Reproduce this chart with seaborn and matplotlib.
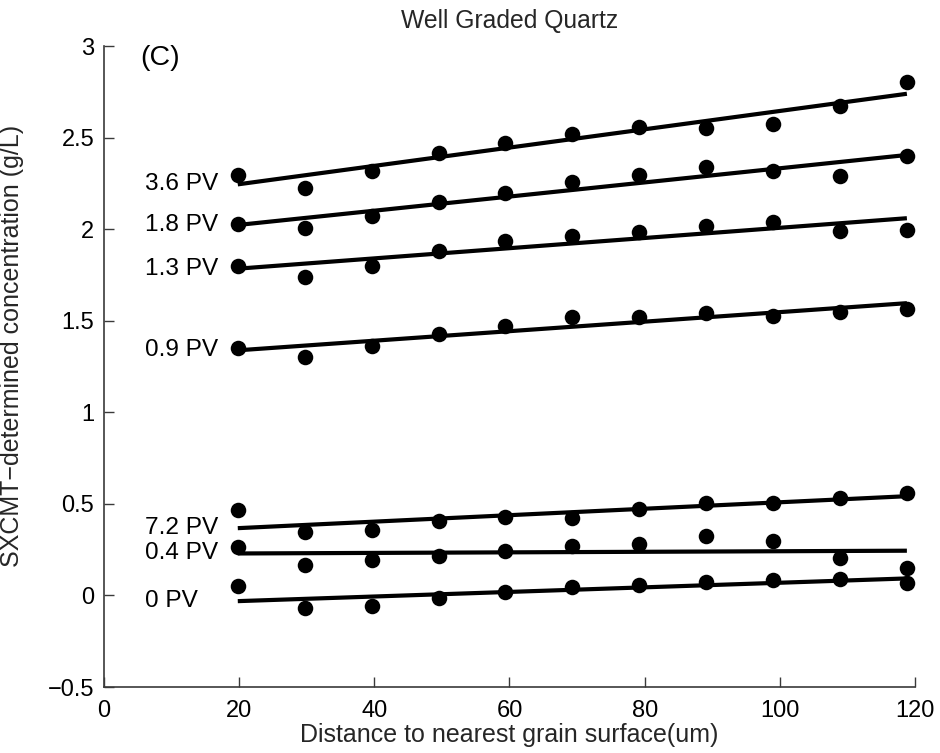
import numpy as np
import pandas as pd
import matplotlib
matplotlib.use("Agg")
import matplotlib.pyplot as plt
import seaborn as sns

# Distance to nearest grain surface (um)
distance = [19.8, 29.7, 39.6, 49.5, 59.4, 69.3, 79.2, 89.1, 99.0, 108.9, 118.8]

# Concentration profiles (g/L) per pore volume injected
conc_3_6 = [2.297, 2.224, 2.319, 2.418, 2.473, 2.519, 2.559, 2.555, 2.573, 2.670, 2.804]
conc_1_8 = [2.028, 2.006, 2.073, 2.146, 2.200, 2.260, 2.297, 2.337, 2.315, 2.291, 2.400]
conc_1_3 = [1.800, 1.737, 1.800, 1.882, 1.933, 1.964, 1.986, 2.015, 2.037, 1.991, 1.997]
conc_0_9 = [1.349, 1.304, 1.360, 1.428, 1.473, 1.522, 1.522, 1.540, 1.528, 1.549, 1.564]
conc_7_2 = [0.464, 0.345, 0.360, 0.404, 0.427, 0.424, 0.473, 0.506, 0.506, 0.533, 0.560]
conc_0_4 = [0.264, 0.164, 0.191, 0.218, 0.242, 0.269, 0.282, 0.322, 0.296, 0.206, 0.151]
conc_0_0 = [0.049, -0.067, -0.060, -0.015, 0.018, 0.045, 0.058, 0.073, 0.082, 0.091, 0.067]

series_labels = ["3.6 PV", "1.8 PV", "1.3 PV", "0.9 PV", "7.2 PV", "0.4 PV", "0 PV"]
series_values = [conc_3_6, conc_1_8, conc_1_3, conc_0_9, conc_7_2, conc_0_4, conc_0_0]

x_ticks = [0, 20, 40, 60, 80, 100, 120]
y_ticks = [-0.5, 0, 0.5, 1, 1.5, 2, 2.5, 3]
y_tick_labels = ["\u22120.5", "0", "0.5", "1", "1.5", "2", "2.5", "3"]

sns.set_theme(style="ticks")
plt.rcParams["font.family"] = ["Liberation Sans", "DejaVu Sans"]
plt.rcParams["axes.edgecolor"] = "#3a3a3a"
plt.rcParams["xtick.color"] = "#3a3a3a"
plt.rcParams["ytick.color"] = "#3a3a3a"
plt.rcParams["xtick.labelcolor"] = "black"
plt.rcParams["ytick.labelcolor"] = "black"

fig = plt.figure(figsize=(9.4, 7.53), dpi=100)
ax = fig.add_axes([0.1106, 0.0876, 0.8628, 0.8513])

for label, values in zip(series_labels, series_values):
    df = pd.DataFrame({"distance": distance, "conc": values})
    sns.regplot(data=df, x="distance", y="conc", ax=ax, ci=None, truncate=True,
                color="black",
                scatter_kws={"s": 125, "linewidths": 0, "alpha": 1},
                line_kws={"lw": 3.0, "solid_capstyle": "butt"})
    # label placed at the left end of the fitted line
    slope, intercept = np.polyfit(distance, values, 1)
    y_start = slope * distance[0] + intercept
    ax.text(6.0, y_start, label, fontsize=17.6, ha="left", va="center", color="black")

ax.text(5.3, 2.935, "(C)", fontsize=20.5, ha="left", va="center", color="black")

ax.set_xlim(0, 120)
ax.set_ylim(-0.5, 3)
ax.set_xticks(x_ticks)
ax.set_yticks(y_ticks)
ax.set_yticklabels(y_tick_labels)
ax.tick_params(direction="in", length=7, width=1.0, labelsize=17)
ax.tick_params(axis="x", pad=9)
ax.tick_params(axis="y", pad=7)
for side in ["top", "right"]:
    ax.spines[side].set_visible(False)
for side in ["left", "bottom"]:
    ax.spines[side].set_linewidth(1.2)

ax.set_xlabel("Distance to nearest grain surface(um)", fontsize=18, labelpad=1)
ax.set_ylabel("SXCMT\u2212determined concentration (g/L)", fontsize=18)
ax.yaxis.set_label_coords(-0.098, 0.532)
ax.set_title("Well Graded Quartz", fontsize=17.8, pad=13)

fig.savefig("out.png", dpi=100)
